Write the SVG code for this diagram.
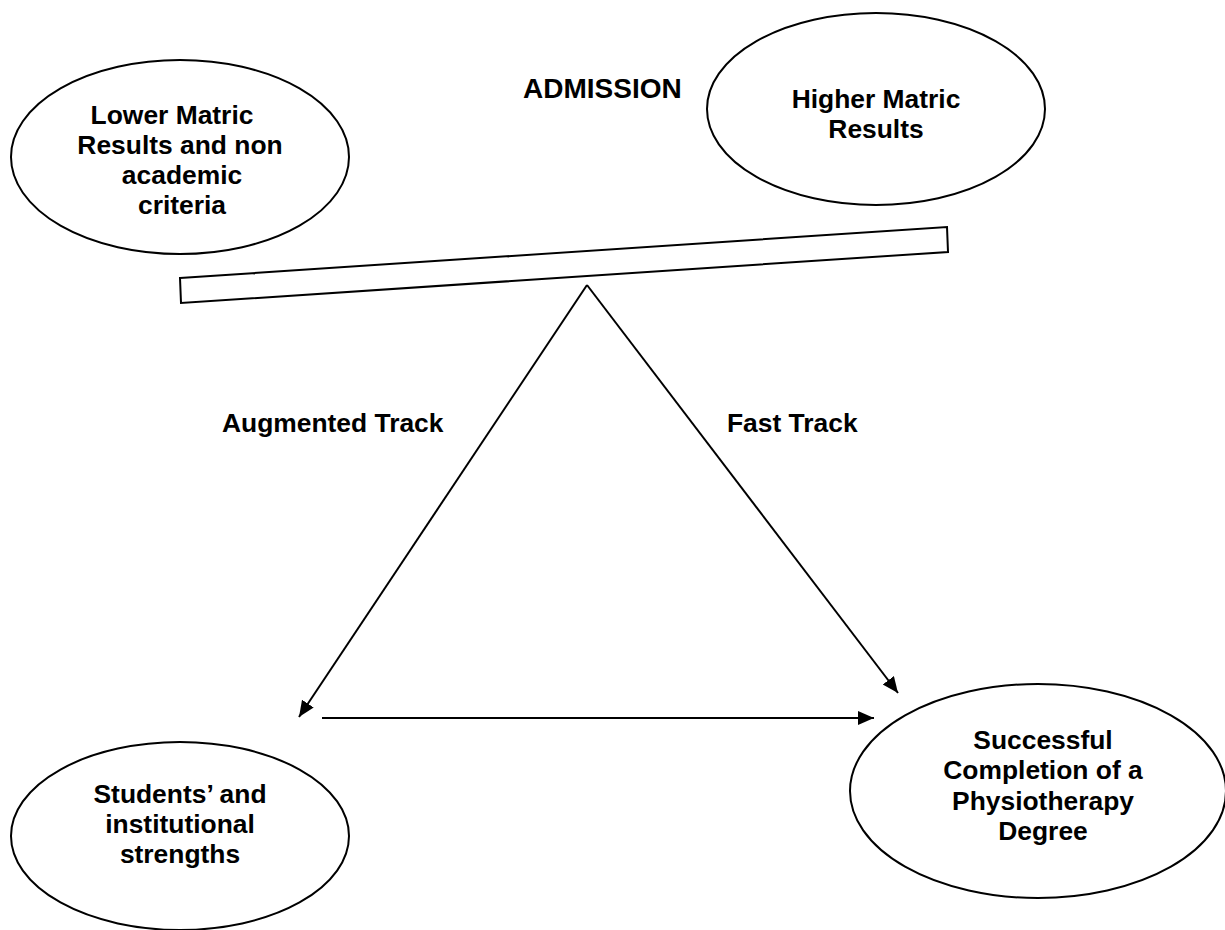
<svg xmlns="http://www.w3.org/2000/svg" width="1225" height="930" viewBox="0 0 1225 930">
  <style>
    .node { fill: #ffffff; stroke: #000000; stroke-width: 2; }
    .label { font-family: "Liberation Sans", Arial, sans-serif; font-weight: bold; font-size: 26.4px; fill: #000000; }
    .title { font-size: 28px; }
    .mid { text-anchor: middle; }
    .edge { fill: none; stroke: #000000; stroke-width: 2; marker-end: url(#head); }
  </style>
  <defs>
    <marker id="head" markerUnits="userSpaceOnUse" markerWidth="17" markerHeight="15" refX="16" refY="7" orient="auto">
      <path d="M0,0 L16,7 L0,14 z" fill="#000000"/>
    </marker>
  </defs>
  <rect x="0" y="0" width="1225" height="930" fill="#ffffff"/>

  <text class="label title" x="523" y="98">ADMISSION</text>

  <g id="lower-matric">
    <ellipse class="node" cx="180" cy="157" rx="169" ry="97"/>
    <text class="label mid" x="172" y="124">Lower Matric</text>
    <text class="label mid" x="180" y="154">Results and non</text>
    <text class="label mid" x="182" y="184">academic</text>
    <text class="label mid" x="182" y="214">criteria</text>
  </g>

  <g id="higher-matric">
    <ellipse class="node" cx="876" cy="109" rx="169" ry="96"/>
    <text class="label mid" x="876" y="108">Higher Matric</text>
    <text class="label mid" x="876" y="138">Results</text>
  </g>

  <!-- tilted balance beam -->
  <g id="beam">
    <polygon class="node" points="180,278 947,227 948,252 181,303"/>
  </g>

  <g id="students-strengths">
    <ellipse class="node" cx="180" cy="836" rx="169" ry="94"/>
    <text class="label mid" x="180" y="803">Students’ and</text>
    <text class="label mid" x="180" y="833">institutional</text>
    <text class="label mid" x="180" y="863">strengths</text>
  </g>

  <g id="degree">
    <ellipse class="node" cx="1038" cy="791" rx="188" ry="107"/>
    <text class="label mid" x="1043" y="749">Successful</text>
    <text class="label mid" x="1043" y="779">Completion of a</text>
    <text class="label mid" x="1043" y="810">Physiotherapy</text>
    <text class="label mid" x="1043" y="840">Degree</text>
  </g>

  <g id="connectors">
    <path class="edge" d="M587,285 L299,717"/>
    <path class="edge" d="M587,285 L898,693"/>
    <path class="edge" d="M322,718 L874,718"/>
    <text class="label" x="222" y="432">Augmented Track</text>
    <text class="label" x="727" y="432">Fast Track</text>
  </g>
</svg>
